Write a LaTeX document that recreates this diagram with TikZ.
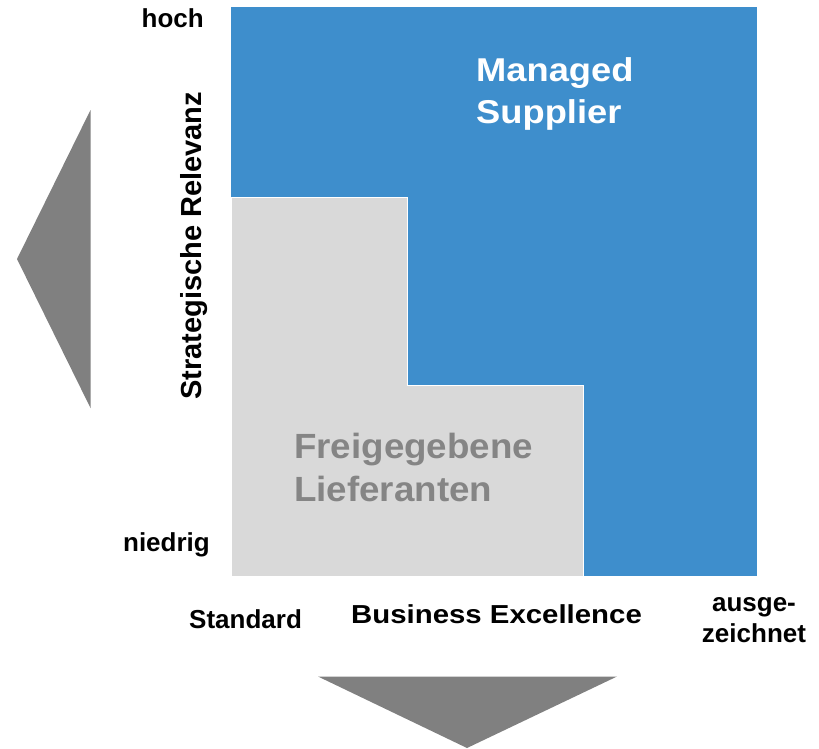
\documentclass[tikz,border=0pt]{standalone}
\usepackage{fontspec}
\usepackage{graphicx}
\setmainfont{Liberation Sans}
\definecolor{portblue}{RGB}{62,142,204}
\definecolor{portgrey}{RGB}{217,217,217}
\definecolor{arrowgrey}{RGB}{128,128,128}
\definecolor{labelgrey}{RGB}{133,133,133}
\begin{document}
\begin{tikzpicture}[x=1pt,y=-1pt,
  axislabel/.style={inner sep=0pt,font=\bfseries\fontsize{26}{26}\selectfont},
  arrowhead/.style={fill=arrowgrey,draw=none}]
\useasboundingbox (0,0) rectangle (819,748);

% portfolio areas
\fill[portblue] (231,7) rectangle (757,576);
\filldraw[fill=portgrey,draw=white,line width=0.8pt]
  (231,197) -- (407,197) -- (407,385.5) -- (583,385.5) -- (583,576) -- (231,576) -- cycle;

% direction arrows
\fill[arrowhead] (90.5,110) -- (90.5,408) -- (17,259) -- cycle;
\fill[arrowhead] (318,676.5) -- (617,676.5) -- (467,748) -- cycle;

% segment names
\node[anchor=base west,inner sep=0pt,text=white,font=\bfseries\fontsize{33}{33}\selectfont] (ms1) at (476,81.7) {\scalebox{1.10}[1]{Managed}};
\node[anchor=base west,inner sep=0pt,text=white,font=\bfseries\fontsize{33}{33}\selectfont] (ms2) at (476,123.5) {\scalebox{1.10}[1]{Supplier}};
\node[anchor=base west,inner sep=0pt,text=labelgrey,font=\bfseries\fontsize{35}{35}\selectfont] (fl1) at (294,458.3) {\scalebox{1.05}[1]{Freigegebene}};
\node[anchor=base west,inner sep=0pt,text=labelgrey,font=\bfseries\fontsize{35}{35}\selectfont] (fl2) at (294,501.7) {\scalebox{1.05}[1]{Lieferanten}};

% axes
\node[axislabel,anchor=base east] (hoch) at (204,27.7) {hoch};
\node[axislabel,anchor=base east] (niedrig) at (210,551.7) {niedrig};
\node[axislabel,anchor=base west] (standard) at (189,628) {Standard};
\node[axislabel,anchor=base] (ausge) at (754,611.7) {ausge-};
\node[axislabel,anchor=base] (zeichnet) at (754,642.7) {zeichnet};
\node[axislabel,anchor=base west] (bex) at (351,623) {\scalebox{1.13}[1]{Business Excellence}};
\node[anchor=base west,inner sep=0pt,rotate=90,font=\bfseries\fontsize{29}{29}\selectfont] (srel) at (201,400) {Strategische Relevanz};
\end{tikzpicture}
\end{document}
